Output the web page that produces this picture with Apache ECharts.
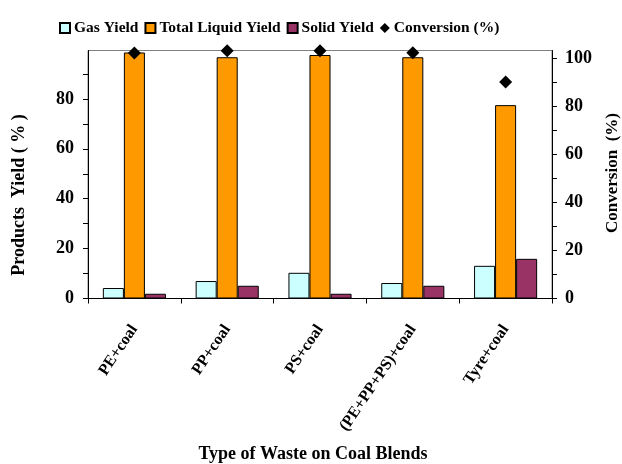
<!DOCTYPE html>
<html>
<head>
<meta charset="utf-8">
<script src="https://cdn.jsdelivr.net/npm/echarts@6/dist/echarts.min.js"></script>
<style>
  html, body { margin: 0; padding: 0; background: #fff; }
  #chart { width: 622px; height: 464px; }
</style>
</head>
<body>
<div id="chart"></div>
<script>
// Product yields and conversion for waste/coal co-processing blends
const categories = ['PE+coal', 'PP+coal', 'PS+coal', '(PE+PP+PS)+coal', 'Tyre+coal'];
const gasYield = [4.2, 7.0, 10.3, 6.2, 13.1];
const liquidYield = [98.6, 96.7, 97.6, 96.7, 77.5];
const solidYield = [1.9, 5.1, 1.9, 5.1, 15.9];
const conversion = [102.1, 103.0, 103.0, 102.2, 90.0];

const leftTicks = [0, 10, 20, 30, 40, 50, 60, 70, 80, 90];
const leftLabels = [0, 20, 40, 60, 80];
const rightTicks = [0, 10, 20, 30, 40, 50, 60, 70, 80, 90, 100];
const rightLabels = [0, 20, 40, 60, 80, 100];

const FONT = '"Liberation Serif", "Times New Roman", serif';
const chart = echarts.init(document.getElementById('chart'), null, { renderer: 'canvas' });

const txt = { fontFamily: FONT, fontWeight: 'bold', color: '#000' };

chart.setOption({
  animation: false,
  backgroundColor: '#fff',
  textStyle: { fontFamily: FONT },
  legend: {
    left: 54,
    top: 15,
    itemWidth: 10,
    itemHeight: 10,
    itemGap: 6,
    textStyle: Object.assign({ fontSize: 15.5, padding: [0, 0, 0, -1] }, txt),
    data: [
      { name: 'Gas Yield', icon: 'rect' },
      { name: 'Total Liquid Yield', icon: 'rect' },
      { name: 'Solid Yield', icon: 'rect' },
      { name: 'Conversion (%)', icon: 'diamond' }
    ]
  },
  grid: {
    left: 88, right: 70, top: 50.5, bottom: 165.5,
    show: true, borderColor: '#808080', borderWidth: 1, backgroundColor: 'transparent'
  },
  xAxis: {
    type: 'category',
    data: categories,
    axisLine: { lineStyle: { color: '#000', width: 1 } },
    axisTick: { show: true, length: 5, lineStyle: { color: '#000' } },
    axisLabel: Object.assign({ fontSize: 16, rotate: 56, margin: 28, interval: 0 }, txt),
    splitLine: { show: false }
  },
  yAxis: [
    {
      type: 'value', min: 0, max: 99.4,
      axisLine: { show: true, lineStyle: { color: '#000' } },
      axisTick: { show: true, length: 5, customValues: leftTicks, lineStyle: { color: '#000' } },
      axisLabel: Object.assign({ fontSize: 18, margin: 14, customValues: leftLabels }, txt),
      splitLine: { show: false }
    },
    {
      type: 'value', min: 0, max: 103.1,
      position: 'right',
      axisLine: { show: true, lineStyle: { color: '#000' } },
      axisTick: { show: true, length: 5, customValues: rightTicks, lineStyle: { color: '#000' } },
      axisLabel: Object.assign({ fontSize: 18, margin: 13, customValues: rightLabels }, txt),
      splitLine: { show: false }
    }
  ],
  series: [
    {
      name: 'Gas Yield', type: 'bar', data: gasYield,
      barGap: '0%', barCategoryGap: '32%',
      itemStyle: { color: '#CCFFFF', borderColor: '#000', borderWidth: 1 }
    },
    {
      name: 'Total Liquid Yield', type: 'bar', data: liquidYield,
      itemStyle: { color: '#FF9900', borderColor: '#000', borderWidth: 1 }
    },
    {
      name: 'Solid Yield', type: 'bar', data: solidYield,
      itemStyle: { color: '#993366', borderColor: '#000', borderWidth: 1 }
    },
    {
      name: 'Conversion (%)', type: 'scatter', yAxisIndex: 1, data: conversion,
      symbol: 'diamond', symbolSize: 13, clip: false, z: 5,
      itemStyle: { color: '#000', opacity: 1 }
    }
  ],
  graphic: [
    {
      type: 'text', x: 19, y: 195, rotation: Math.PI / 2,
      style: { text: 'Products  Yield ( % )', fontSize: 18, align: 'center', verticalAlign: 'middle', fill: '#000', fontFamily: FONT, fontWeight: 'bold' }
    },
    {
      type: 'text', x: 613, y: 173, rotation: Math.PI / 2,
      style: { text: 'Conversion  (%)', fontSize: 17, align: 'center', verticalAlign: 'middle', fill: '#000', fontFamily: FONT, fontWeight: 'bold' }
    },
    {
      type: 'text', x: 313, y: 454,
      style: { text: 'Type of Waste on Coal Blends', fontSize: 18, align: 'center', verticalAlign: 'middle', fill: '#000', fontFamily: FONT, fontWeight: 'bold' }
    }
  ]
});
</script>
</body>
</html>
